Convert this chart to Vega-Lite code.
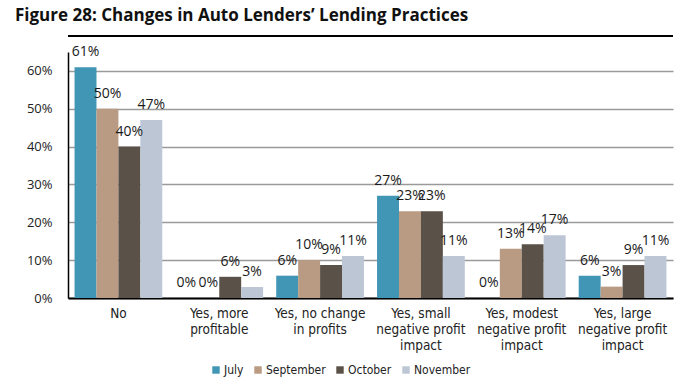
{
  "$schema": "https://vega.github.io/schema/vega-lite/v6.json",
  "width": 605,
  "height": 246,
  "autosize": {"type": "none"},
  "padding": {"left": 68, "top": 52, "right": 27, "bottom": 89},
  "background": "white",
  "title": {
    "text": "Figure 28: Changes in Auto Lenders’ Lending Practices",
    "anchor": "start",
    "frame": "group",
    "dx": -53,
    "offset": 10,
    "font": "Open Sans",
    "fontSize": 17,
    "fontWeight": "bold",
    "color": "#111111"
  },
  "config": {
    "view": {"stroke": null},
    "font": "Open Sans"
  },
  "data": {
    "values": [
      {"category": "No", "month": "July", "value": 0.61},
      {"category": "No", "month": "September", "value": 0.50},
      {"category": "No", "month": "October", "value": 0.40},
      {"category": "No", "month": "November", "value": 0.47},
      {"category": "Yes, more profitable", "month": "July", "value": 0.0},
      {"category": "Yes, more profitable", "month": "September", "value": 0.0},
      {"category": "Yes, more profitable", "month": "October", "value": 0.056},
      {"category": "Yes, more profitable", "month": "November", "value": 0.029},
      {"category": "Yes, no change in profits", "month": "July", "value": 0.059},
      {"category": "Yes, no change in profits", "month": "September", "value": 0.10},
      {"category": "Yes, no change in profits", "month": "October", "value": 0.087},
      {"category": "Yes, no change in profits", "month": "November", "value": 0.111},
      {"category": "Yes, small negative profit impact", "month": "July", "value": 0.27},
      {"category": "Yes, small negative profit impact", "month": "September", "value": 0.229},
      {"category": "Yes, small negative profit impact", "month": "October", "value": 0.229},
      {"category": "Yes, small negative profit impact", "month": "November", "value": 0.111},
      {"category": "Yes, modest negative profit impact", "month": "July", "value": 0.0},
      {"category": "Yes, modest negative profit impact", "month": "September", "value": 0.13},
      {"category": "Yes, modest negative profit impact", "month": "October", "value": 0.142},
      {"category": "Yes, modest negative profit impact", "month": "November", "value": 0.166},
      {"category": "Yes, large negative profit impact", "month": "July", "value": 0.059},
      {"category": "Yes, large negative profit impact", "month": "September", "value": 0.03},
      {"category": "Yes, large negative profit impact", "month": "October", "value": 0.087},
      {"category": "Yes, large negative profit impact", "month": "November", "value": 0.111}
    ]
  },
  "layer": [
    {
      "mark": {"type": "bar"},
      "encoding": {
        "x": {
          "field": "category",
          "type": "nominal",
          "sort": null,
          "scale": {"paddingInner": 0.13, "paddingOuter": 0.065},
          "axis": {
            "title": null,
            "labelAngle": 0,
            "ticks": false,
            "domain": true,
            "domainColor": "#000000",
            "domainWidth": 2,
            "labelPadding": 8,
            "labelFont": "Liberation Sans Narrow, DejaVu Sans Condensed, sans-serif",
            "labelFontSize": 13.5,
            "labelColor": "#222222",
            "labelLineHeight": 16,
            "labelBaseline": "top",
            "labelExpr": "datum.value == 'Yes, more profitable' ? ['Yes, more', 'profitable'] : datum.value == 'Yes, no change in profits' ? ['Yes, no change', 'in profits'] : datum.value == 'Yes, small negative profit impact' ? ['Yes, small', 'negative profit', 'impact'] : datum.value == 'Yes, modest negative profit impact' ? ['Yes, modest', 'negative profit', 'impact'] : datum.value == 'Yes, large negative profit impact' ? ['Yes, large', 'negative profit', 'impact'] : datum.value"
          }
        },
        "xOffset": {
          "field": "month",
          "type": "nominal",
          "sort": ["July", "September", "October", "November"],
          "scale": {"paddingInner": 0, "paddingOuter": 0}
        },
        "y": {
          "field": "value",
          "type": "quantitative",
          "scale": {"domain": [0, 0.65], "nice": false},
          "axis": {
            "title": null,
            "format": ".0%",
            "values": [0, 0.1, 0.2, 0.3, 0.4, 0.5, 0.6],
            "ticks": false,
            "domain": true,
            "domainColor": "#000000",
            "domainWidth": 1.5,
            "grid": true,
            "gridColor": "#9a9a9a",
            "gridWidth": 1.5,
            "labelPadding": 16,
            "labelFontSize": 13,
            "labelColor": "#222222"
          }
        },
        "color": {
          "field": "month",
          "type": "nominal",
          "sort": ["July", "September", "October", "November"],
          "scale": {
            "domain": ["July", "September", "October", "November"],
            "range": ["#4195b5", "#b99a82", "#5a5148", "#bcc6d5"]
          },
          "legend": {
            "title": null,
            "orient": "none",
            "legendX": 142,
            "legendY": 312,
            "direction": "horizontal",
            "columns": 4,
            "symbolType": "square",
            "symbolSize": 55,
            "symbolStrokeWidth": 0,
            "symbolOffset": 0,
            "labelOffset": 2,
            "columnPadding": 8,
            "labelFont": "Liberation Sans Narrow, DejaVu Sans Condensed, sans-serif",
            "labelFontSize": 12,
            "labelColor": "#222222"
          }
        }
      }
    },
    {
      "mark": {"type": "text", "baseline": "alphabetic", "dy": -11, "fontSize": 14, "color": "#1a1a1a"},
      "encoding": {
        "x": {"field": "category", "type": "nominal", "sort": null},
        "xOffset": {"field": "month", "type": "nominal", "sort": ["July", "September", "October", "November"]},
        "y": {"field": "value", "type": "quantitative"},
        "text": {"field": "value", "type": "quantitative", "format": ".0%"}
      }
    },
    {
      "mark": {"type": "rule", "clip": false, "color": "#000000", "strokeWidth": 1.5},
      "encoding": {
        "y": {"datum": 0.6923, "type": "quantitative"}
      }
    }
  ]
}
